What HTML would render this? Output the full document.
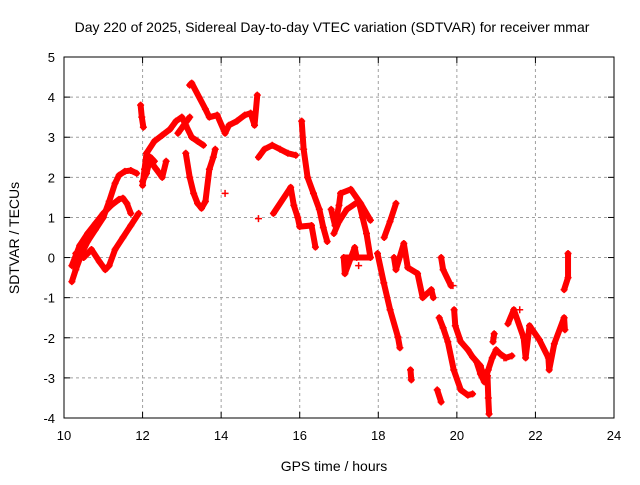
<!DOCTYPE html>
<html><head><meta charset="utf-8"><style>
body{margin:0;background:#fff;}
svg text{font-family:"Liberation Sans",sans-serif;}
</style></head><body>
<svg id="chart" width="640" height="480" xmlns="http://www.w3.org/2000/svg">
<rect width="640" height="480" fill="#fff"/>
<text x="332" y="32" text-anchor="middle" font-size="14">Day 220 of 2025, Sidereal Day-to-day VTEC variation (SDTVAR) for receiver mmar</text>
<text x="334" y="471" text-anchor="middle" font-size="14">GPS time / hours</text>
<text transform="translate(19,238) rotate(-90)" text-anchor="middle" font-size="14">SDTVAR / TECUs</text>
<g id="grid"></g><g id="ticks"></g><g id="marks"></g>
<rect x="64" y="57" width="550" height="361" fill="none" stroke="#000" stroke-width="1"/>
</svg>
<script>
const xTicks=[10,12,14,16,18,20,22,24];
const yTicks=[-4,-3,-2,-1,0,1,2,3,4,5];
// each track is a list of [hour, TECU] points
const trackA=[[10.2,-0.6],[10.3,-0.3],[10.45,0.1],[10.6,0.4],[10.8,0.7],[11.0,1.0],[11.15,1.4],[11.3,1.85],[11.4,2.05],[11.55,2.15],[11.7,2.17],[11.85,2.1]];
const trackB=[[10.2,-0.2],[10.4,0.3],[10.6,0.6],[10.8,0.85],[11.0,1.1],[11.2,1.3],[11.4,1.45],[11.5,1.48],[11.6,1.35],[11.7,1.1]];
const trackC=[[10.3,0.1],[10.5,0.0],[10.7,0.2],[10.9,-0.1],[11.05,-0.3],[11.15,-0.2],[11.3,0.2],[11.5,0.5],[11.7,0.8],[11.9,1.1]];
const trackD=[[11.95,3.8],[11.98,3.5],[12.02,3.25],[12.0,1.8],[12.05,2.2],[12.1,2.6],[12.2,2.4],[12.35,2.2],[12.5,2.0],[12.6,2.4]];
const trackE=[[12.1,2.6],[12.3,2.9],[12.5,3.05],[12.7,3.2],[12.85,3.4],[13.0,3.5],[13.1,3.3],[13.25,3.0],[13.4,2.9],[13.55,2.8]];
const trackF=[[13.1,2.6],[13.2,2.0],[13.3,1.6],[13.4,1.35],[13.5,1.23],[13.6,1.4],[13.7,2.2],[13.8,2.5],[13.85,2.7]];
const trackG=[[13.2,4.3],[13.25,4.35],[13.6,3.7],[13.7,3.5],[13.9,3.55],[14.1,3.1],[14.2,3.3],[14.4,3.4],[14.6,3.55],[14.75,3.6],[14.85,3.3],[14.92,4.05]];
const trackH=[[14.95,2.5],[15.1,2.7],[15.3,2.8],[15.5,2.7],[15.7,2.6],[15.9,2.55],[16.05,3.4],[16.1,2.7],[16.2,2.0],[16.35,1.6],[16.5,1.2],[16.6,0.75],[16.7,0.4]];
const trackI=[[15.33,1.1],[15.77,1.75],[15.85,1.3],[15.95,1.0],[16.0,0.77],[16.3,0.8],[16.4,0.26]];
const trackJ=[[16.8,1.2],[16.9,0.8],[17.0,1.3],[17.04,1.6],[17.3,1.7],[17.55,1.35],[17.8,0.93],[17.98,0.1],[18.14,-0.63],[18.3,-1.3],[18.5,-1.98],[18.55,-2.25]];
const trackK=[[16.87,0.6],[17.0,0.9],[17.2,1.2],[17.5,1.4],[17.6,1.0],[17.7,0.6],[17.8,0.0],[17.12,0.0],[17.15,-0.4],[17.4,0.25],[17.45,0.0]];
const trackL=[[18.15,0.5],[18.3,0.9],[18.45,1.35],[18.4,0.0],[18.45,-0.3],[18.65,0.35],[18.75,-0.25],[19.0,-0.4],[19.13,-1.0],[19.35,-0.8],[19.4,-1.0],[18.82,-2.8],[18.84,-3.05]];
const trackM=[[19.6,0.0],[19.65,-0.3],[19.85,-0.7],[19.55,-1.5],[19.65,-1.75],[19.77,-2.1],[19.92,-2.8],[20.1,-3.3],[20.28,-3.43],[20.4,-3.4]];
const trackN=[[19.93,-1.3],[19.96,-1.7],[20.1,-2.1],[20.28,-2.3],[20.4,-2.48],[20.6,-2.7],[20.7,-3.0],[20.78,-2.95],[20.8,-3.5],[20.82,-3.9],[20.92,-2.1],[20.95,-1.9],[19.5,-3.3],[19.6,-3.6]];
const trackO=[[21.2,-2.5],[21.3,-1.65],[21.45,-1.3],[21.7,-2.0],[21.75,-2.5],[21.85,-1.7],[22.1,-2.05],[22.33,-2.5],[22.35,-2.8],[22.48,-2.15],[22.73,-1.5],[22.75,-1.8],[22.73,-0.8],[22.83,-0.5],[22.83,0.1]];
const trackP=[[20.5,-2.6],[20.6,-2.9],[20.7,-3.1],[20.8,-2.8],[20.9,-2.5],[21.0,-2.3],[21.1,-2.4],[21.25,-2.5],[21.4,-2.45]];
const trackQ=[[12.0,1.9],[12.1,2.1],[12.2,2.5],[12.3,2.4],[12.9,3.1],[13.05,3.3],[13.2,3.5]];
const trackR=[[14.1,1.6],[14.95,0.97],[17.5,-0.2],[19.9,-0.7],[21.6,-1.3]];
const tracks=[trackA,trackB,trackC,trackD,trackE,trackF,trackG,trackH,trackI,trackJ,trackK,trackL,trackM,trackN,trackO,trackP,trackQ,trackR];
const NS="http://www.w3.org/2000/svg";
const L=64,R=614,T=57,B=418;
function xs(t){return L+(t-10)/(24-10)*(R-L);}
function ys(v){return B-(v+4)/9*(B-T);}
function mk(tag,a,p){const e=document.createElementNS(NS,tag);for(const k in a)e.setAttribute(k,a[k]);p.appendChild(e);return e;}
const grid=document.getElementById('grid'),ticks=document.getElementById('ticks'),marks=document.getElementById('marks');
xTicks.forEach(t=>{const x=xs(t);
 if(t>10&&t<24){const g=mk('line',{x1:x,x2:x,y1:T,y2:B,stroke:'#a0a0a0','stroke-dasharray':'3,3'},grid);
 
 }
 mk('line',{x1:x,x2:x,y1:B,y2:B-6,stroke:'#000'},ticks);mk('line',{x1:x,x2:x,y1:T,y2:T+6,stroke:'#000'},ticks);
 const tx=mk('text',{x:x,y:B+22,'text-anchor':'middle','font-size':'13'},ticks);tx.textContent=t;
 
 });
yTicks.forEach(v=>{const y=ys(v);
 if(v>-4&&v<5){const g=mk('line',{x1:L,x2:R,y1:y,y2:y,stroke:'#a0a0a0','stroke-dasharray':'3,3'},grid);
 
 }
 mk('line',{x1:L,x2:L+6,y1:y,y2:y,stroke:'#000'},ticks);mk('line',{x1:R,x2:R-6,y1:y,y2:y,stroke:'#000'},ticks);
 const tx=mk('text',{x:L-9,y:y+5,'text-anchor':'end','font-size':'13'},ticks);tx.textContent=v;
 
 });
tracks.forEach(tr=>{
 for(let i=1;i<tr.length;i++){
  const x1=xs(tr[i-1][0]),y1=ys(tr[i-1][1]),x2=xs(tr[i][0]),y2=ys(tr[i][1]);
  if(Math.hypot(x2-x1,y2-y1)<34){
   const s=mk('line',{x1:x1,y1:y1,x2:x2,y2:y2,stroke:'#f00','stroke-width':'6','stroke-linecap':'round'},marks);
   
   
  }
 }
 tr.forEach(p=>{const x=xs(p[0]),y=ys(p[1]);
  const m=mk('path',{d:`M${x-3.5},${y}h7M${x},${y-3.5}v7`,stroke:'#f00','stroke-width':'1.5',fill:'none'},marks);
  
  });
});
</script>
</body></html>
